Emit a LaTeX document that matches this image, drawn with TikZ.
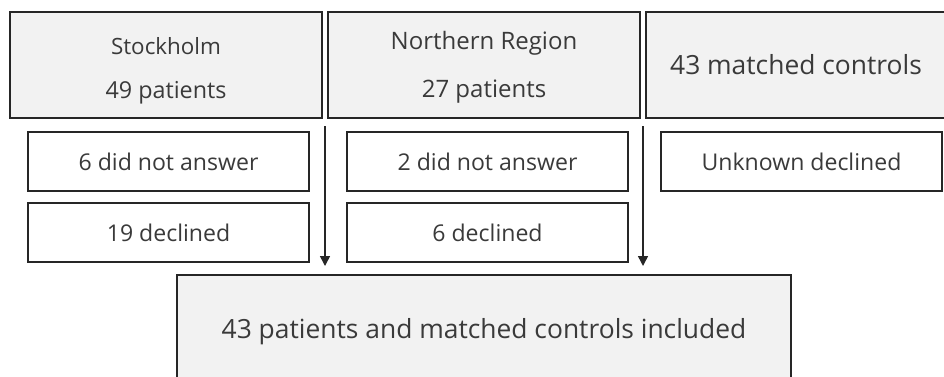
\documentclass[tikz,border=0pt]{standalone}
\usepackage{fontspec}
\setmainfont{Open Sans}
\usetikzlibrary{arrows.meta}
\definecolor{boxfill}{HTML}{F2F2F2}
\definecolor{boxline}{HTML}{262626}
\definecolor{txt}{HTML}{3A3A3A}
\tikzset{
  topbox/.style={draw=boxline, line width=1.5pt, fill=boxfill, inner sep=0pt, text=txt},
  subbox/.style={draw=boxline, line width=1.5pt, fill=white, inner sep=0pt, text=txt},
  lbl/.style={inner sep=0pt, text=txt},
  flow/.style={draw=boxline, line width=1.1pt, -{Triangle[length=7.5pt,width=7.5pt]}}
}
\begin{document}
\begin{tikzpicture}[x=0.75pt,y=-0.75pt]
\useasboundingbox (0,0) rectangle (944,376);
\clip (0,0) rectangle (944,376);
% top boxes
\node[topbox, minimum width=312*0.75pt, minimum height=106*0.75pt] (stock) at (166,65) {};
\node[lbl, font=\fontsize{16.8pt}{20pt}\selectfont] (stockA) at (166,46) {Stockholm};
\node[lbl, font=\fontsize{17.5pt}{20pt}\selectfont] (stockB) at (166,93) {49 patients};
\node[topbox, minimum width=312*0.75pt, minimum height=106*0.75pt] (north) at (484,65) {};
\node[lbl, font=\fontsize{18pt}{20pt}\selectfont] (northA) at (484,43) {Northern Region};
\node[lbl, font=\fontsize{18pt}{20pt}\selectfont] (northB) at (484,92) {27 patients};
\node[topbox, minimum width=300*0.75pt, minimum height=106*0.75pt, font=\fontsize{19.8pt}{22pt}\selectfont] (ctrl) at (796,65) {43 matched controls};
% sub boxes
\node[subbox, minimum width=281*0.75pt, minimum height=59*0.75pt, font=\fontsize{17.3pt}{20pt}\selectfont] (s1) at (168.5,161.5) {6 did not answer};
\node[subbox, minimum width=281*0.75pt, minimum height=59*0.75pt, font=\fontsize{17.3pt}{20pt}\selectfont] (s2) at (168.5,232.5) {19 declined};
\node[subbox, minimum width=281*0.75pt, minimum height=59*0.75pt, font=\fontsize{17.3pt}{20pt}\selectfont] (n1) at (487.5,161.5) {2 did not answer};
\node[subbox, minimum width=281*0.75pt, minimum height=59*0.75pt, font=\fontsize{17.3pt}{20pt}\selectfont] (n2) at (487.5,232.5) {6 declined};
\node[subbox, minimum width=281*0.75pt, minimum height=59*0.75pt, font=\fontsize{17.3pt}{20pt}\selectfont] (c1) at (801.5,161.5) {Unknown declined};
% bottom box
\node[topbox, minimum width=614*0.75pt, minimum height=120*0.75pt] (incl) at (484,335) {};
\node[lbl, font=\fontsize{19.8pt}{22pt}\selectfont] (inclT) at (484,332) {43 patients and matched controls included};
% arrows
\coordinate (a1) at (325,126);
\coordinate (a2) at (643,126);
\draw[flow, shorten >=8*0.75pt] (a1) -- (a1 |- incl.north);
\draw[flow, shorten >=8*0.75pt] (a2) -- (a2 |- incl.north);
\end{tikzpicture}
\end{document}
